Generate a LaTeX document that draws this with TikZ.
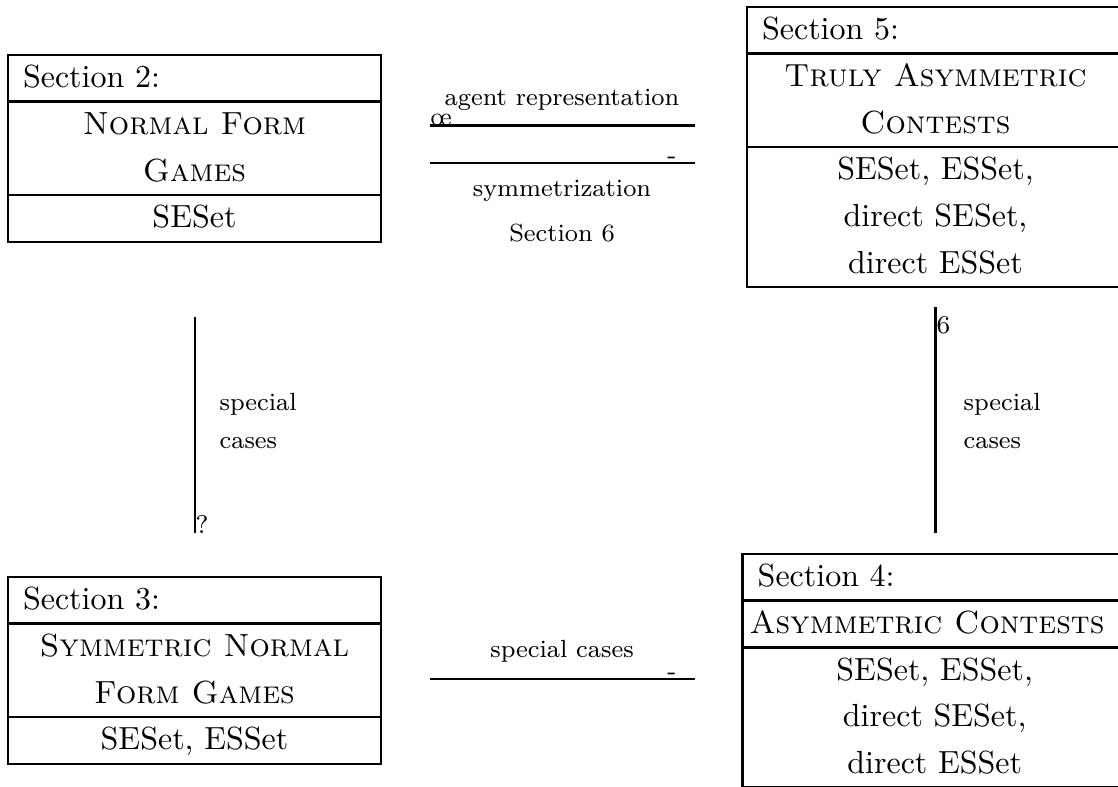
\documentclass[tikz,border=0pt]{standalone}

\tikzset{
  frame/.style={line width=0.8pt},
  txt/.style={font=\normalsize, inner sep=0pt},
  conn/.style={line width=0.8pt},
  lbl/.style={font=\footnotesize, inner sep=0pt, scale=0.97},
  tip/.style={font=\footnotesize, inner sep=0pt},
}

\begin{document}
\begin{tikzpicture}[x=0.3125pt,y=-0.3125pt]
\useasboundingbox (0,0) rectangle (1118,786);
\clip (0,0) rectangle (1118,786);

% ---------- Section 2 (top left) ----------
\draw[frame] (8,55) rectangle (381,241.8);
\draw[frame] (8,101.7) -- (381,101.7) (8,195.1) -- (381,195.1);
\node[txt, anchor=base west] (s2-head) at (22.4,87.6) {Section 2:};
\foreach \t [count=\i] in {\textsc{Normal Form}, \textsc{Games}, SESet}
  \node[txt, anchor=base] (s2-\i) at (194.5,{87.6+46.7*\i}) {\t};

% ---------- Section 3 (bottom left) ----------
\draw[frame] (8,577) rectangle (381,763.8);
\draw[frame] (8,623.7) -- (381,623.7) (8,717.1) -- (381,717.1);
\node[txt, anchor=base west] (s3-head) at (22.4,609.6) {Section 3:};
\foreach \t [count=\i] in {\textsc{Symmetric Normal}, \textsc{Form Games}, {SESet, ESSet}}
  \node[txt, anchor=base] (s3-\i) at (194.5,{609.6+46.7*\i}) {\t};

% ---------- Section 5 (top right) ----------
\draw[frame] (747,7) rectangle (1124,287.2);
\draw[frame] (747,53.7) -- (1124,53.7) (747,147.1) -- (1124,147.1);
\node[txt, anchor=base west] (s5-head) at (761.4,39.6) {Section 5:};
\foreach \t [count=\i] in {\textsc{Truly Asymmetric}, \textsc{Contests}, {SESet, ESSet,}, {direct SESet,}, direct ESSet}
  \node[txt, anchor=base] (s5-\i) at (935.5,{39.6+46.7*\i}) {\t};

% ---------- Section 4 (bottom right) ----------
\draw[frame] (742.7,554) rectangle (1126.7,787.5);
\draw[frame] (742.7,600.7) -- (1126.7,600.7) (742.7,647.4) -- (1126.7,647.4);
\node[txt, anchor=base west] (s4-head) at (757.1,586.6) {Section 4:};
\node[txt, anchor=base] (s4-title) at (927,633.3) {\textsc{Asymmetric Contests}};
\foreach \t [count=\i] in {{SESet, ESSet,}, {direct SESet,}, direct ESSet}
  \node[txt, anchor=base] (s4-\i) at (934.7,{633.3+46.7*\i}) {\t};

% ---------- Connectors between the boxes ----------
\coordinate (ag-w) at (430,125.7);
\coordinate (ag-e) at (695,125.7);
\coordinate (sy-w) at (430,163);
\coordinate (sy-e) at (695,163);
\coordinate (sc-w) at (430,679);
\coordinate (sc-e) at (695,679);
\coordinate (lv-top) at (195,316.7);
\coordinate (lv-bot) at (195,533);
\coordinate (rv-top) at (935.7,306.7);
\coordinate (rv-bot) at (935.7,533);

\draw[conn] (ag-e) -- (ag-w);
\draw[conn] (sy-w) -- (sy-e);
\draw[conn] (sc-w) -- (sc-e);
\draw[conn] (lv-top) -- (lv-bot);
\draw[conn] (rv-bot) -- (rv-top);

% tips as printed
\node[tip, anchor=base west] (ag-tip) at (ag-w) {\oe};
\node[tip, anchor=base east] (sy-tip) at (677,163) {-};
\node[tip, anchor=base east] (sc-tip) at (677,679) {-};
\node[tip, anchor=base west] (lv-tip) at (lv-bot) {?};
\node[tip, anchor=base west] (rv-tip) at (936,333) {6};

% ---------- Labels ----------
\node[lbl, anchor=base] (ag-lbl) at (562,105) {agent representation};
\node[lbl, anchor=base] (sy-lbl) at (562,196.7) {symmetrization};
\node[lbl, anchor=base] (s6-lbl) at (562,241.7) {Section 6};
\node[lbl, anchor=base] (sc-lbl) at (562,657) {special cases};
\node[lbl, anchor=base west] (lv-lbl1) at (219,410) {special};
\node[lbl, anchor=base west] (lv-lbl2) at (219,448) {cases};
\node[lbl, anchor=base west] (rv-lbl1) at (963,410) {special};
\node[lbl, anchor=base west] (rv-lbl2) at (963,448) {cases};

\end{tikzpicture}
\end{document}
